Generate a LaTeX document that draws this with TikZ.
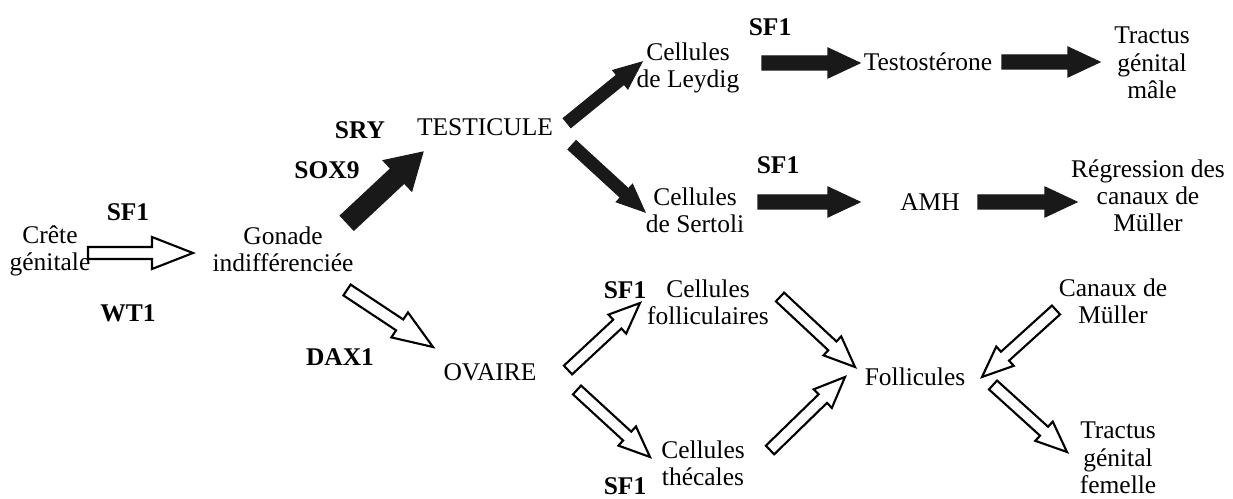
\documentclass[tikz,border=0pt]{standalone}
\usepackage{fontspec}
\setmainfont{Liberation Serif}
\usetikzlibrary{calc}

% block arrow: [style]{from}{to}{half shaft}{half head}{head length}
\newcommand{\blockarrow}[6][]{%
  \coordinate (ba-p) at ($(#3)!#6!(#2)$);
  \draw[#1] ($(#2)!#4!90:(#3)$) -- ($(ba-p)!#4!90:(#3)$) -- ($(ba-p)!#5!90:(#3)$)
    -- (#3) -- ($(ba-p)!#5!-90:(#3)$) -- ($(ba-p)!#4!-90:(#3)$) -- ($(#2)!#4!-90:(#3)$) -- cycle;
}

\tikzset{
  txt/.style={align=center, inner sep=0pt, font=\fontsize{14.5}{15.5}\selectfont},
  gene/.style={inner sep=0pt, font=\fontsize{14.5}{15.5}\selectfont\bfseries},
  solidarrow/.style={fill=black!90, draw=black!90, line width=0.6pt, line join=miter},
  openarrow/.style={fill=white, draw=black, line width=1.2pt, line join=miter},
}

\begin{document}
\begin{tikzpicture}[x=0.02cm, y=-0.02cm]
    \useasboundingbox (0,0) rectangle (1233,499);

    % gonade
    \node[txt] (crete) at (50,251) {Crête\\génitale};
    \node[gene] (sf1a) at (128,212) {SF1};
    \node[gene] (wt1) at (128,313) {WT1};
    \node[txt] (gonade) at (283,249) {Gonade\\indifférenciée};

    \coordinate (cg1) at (88,253);
    \coordinate (cg2) at (193,253);
    \blockarrow[openarrow]{cg1}{cg2}{0.12cm}{0.32cm}{0.82cm}

    % testicule
    \node[gene] (sry) at (360,130) {SRY};
    \node[gene] (sox9) at (327,170) {SOX9};
    \node[txt] (testicule) at (485,127) {TESTICULE};

    \coordinate (gt1) at (347,223);
    \coordinate (gt2) at (423,152);
    \blockarrow[solidarrow]{gt1}{gt2}{0.2cm}{0.42cm}{0.7cm}

    \node[txt] (leydig) at (688,68) {Cellules\\de Leydig};
    \node[gene] (sf1b) at (770,27) {SF1};
    \node[txt] (testo) at (928,62) {Testostérone};
    \node[txt] (tractusm) at (1152,63) {Tractus\\génital\\mâle};

    \node[txt] (sertoli) at (695,210) {Cellules\\de Sertoli};
    \node[gene] (sf1c) at (778,165) {SF1};
    \node[txt] (amh) at (930,202) {AMH};
    \node[txt] (regression) at (1148,196) {Régression des\\canaux de\\Müller};

    \coordinate (tl1) at (567,123);
    \coordinate (tl2) at (642,62);
    \blockarrow[solidarrow]{tl1}{tl2}{0.12cm}{0.24cm}{0.56cm}
    \coordinate (ts1) at (572,145);
    \coordinate (ts2) at (645,212);
    \blockarrow[solidarrow]{ts1}{ts2}{0.12cm}{0.24cm}{0.56cm}

    \coordinate (lt1) at (762,63);
    \coordinate (lt2) at (860,63);
    \blockarrow[solidarrow]{lt1}{lt2}{0.14cm}{0.3cm}{0.64cm}
    \coordinate (tt1) at (1002,62);
    \coordinate (tt2) at (1100,62);
    \blockarrow[solidarrow]{tt1}{tt2}{0.14cm}{0.3cm}{0.64cm}
    \coordinate (sa1) at (758,202);
    \coordinate (sa2) at (860,202);
    \blockarrow[solidarrow]{sa1}{sa2}{0.14cm}{0.3cm}{0.64cm}
    \coordinate (ar1) at (978,202);
    \coordinate (ar2) at (1077,202);
    \blockarrow[solidarrow]{ar1}{ar2}{0.14cm}{0.3cm}{0.64cm}

    % ovaire
    \node[gene] (dax1) at (340,357) {DAX1};
    \node[txt] (ovaire) at (490,372) {OVAIRE};

    \coordinate (go1) at (347,290);
    \coordinate (go2) at (433,347);
    \blockarrow[openarrow]{go1}{go2}{0.13cm}{0.3cm}{0.8cm}

    \node[txt] (follic) at (708,302) {Cellules\\folliculaires};
    \node[gene] (sf1d) at (625,290) {SF1};
    \node[txt] (theca) at (703,463) {Cellules\\thécales};
    \node[gene] (sf1e) at (625,486) {SF1};
    \node[txt] (follicules) at (915,377) {Follicules};
    \node[txt] (canaux) at (1113,301) {Canaux de\\Müller};
    \node[txt] (tractusf) at (1118,458) {Tractus\\génital\\femelle};

    \coordinate (of1) at (568,370);
    \coordinate (of2) at (640,303);
    \blockarrow[openarrow]{of1}{of2}{0.12cm}{0.26cm}{0.62cm}
    \coordinate (ot1) at (577,390);
    \coordinate (ot2) at (650,457);
    \blockarrow[openarrow]{ot1}{ot2}{0.12cm}{0.26cm}{0.62cm}
    \coordinate (ff1) at (780,297);
    \coordinate (ff2) at (855,367);
    \blockarrow[openarrow]{ff1}{ff2}{0.12cm}{0.26cm}{0.62cm}
    \coordinate (tf1) at (770,450);
    \coordinate (tf2) at (845,377);
    \blockarrow[openarrow]{tf1}{tf2}{0.12cm}{0.26cm}{0.62cm}
    \coordinate (cf1) at (1056,310);
    \coordinate (cf2) at (982,377);
    \blockarrow[openarrow]{cf1}{cf2}{0.12cm}{0.26cm}{0.62cm}
    \coordinate (fg1) at (993,385);
    \coordinate (fg2) at (1067,452);
    \blockarrow[openarrow]{fg1}{fg2}{0.12cm}{0.26cm}{0.62cm}
\end{tikzpicture}
\end{document}
